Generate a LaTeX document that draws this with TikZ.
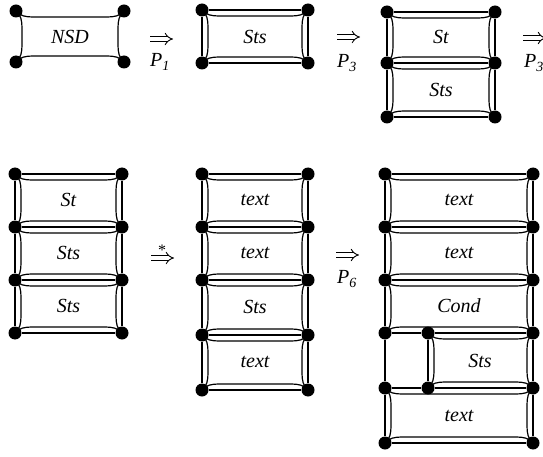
\documentclass[tikz,border=0pt]{standalone}
\usepackage{fontspec}
\setmainfont{Liberation Serif}
\usetikzlibrary{arrows.meta}
% inset and corner run of the curved face outline inside each cell
\newcommand\cellinset{6}
\newcommand\cellrun{17}
% \cellface{x1}{y1}{x2}{y2}: concave face outline through the four corners
\newcommand\cellface[4]{%
  \draw[face] (#1,#2) .. controls ({#1+4},{#2+5}) and ({#1+\cellrun-7},{#2+\cellinset}) .. ({#1+\cellrun},{#2+\cellinset})
    -- ({#3-\cellrun},{#2+\cellinset}) .. controls ({#3-\cellrun+7},{#2+\cellinset}) and ({#3-4},{#2+5}) .. (#3,#2)
    .. controls ({#3-5},{#2+4}) and ({#3-\cellinset},{#2+\cellrun-7}) .. ({#3-\cellinset},{#2+\cellrun})
    -- ({#3-\cellinset},{#4-\cellrun}) .. controls ({#3-\cellinset},{#4-\cellrun+7}) and ({#3-5},{#4-4}) .. (#3,#4)
    .. controls ({#3-4},{#4-5}) and ({#3-\cellrun+7},{#4-\cellinset}) .. ({#3-\cellrun},{#4-\cellinset})
    -- ({#1+\cellrun},{#4-\cellinset}) .. controls ({#1+\cellrun-7},{#4-\cellinset}) and ({#1+4},{#4-5}) .. (#1,#4)
    .. controls ({#1+5},{#4-4}) and ({#1+\cellinset},{#4-\cellrun+7}) .. ({#1+\cellinset},{#4-\cellrun})
    -- ({#1+\cellinset},{#2+\cellrun}) .. controls ({#1+\cellinset},{#2+\cellrun-7}) and ({#1+5},{#2+4}) .. cycle;}
\begin{document}
\begin{tikzpicture}[x=1pt,y=-1pt,
  dot/.style={circle,fill=black,inner sep=0pt,minimum size=13pt},
  edge/.style={line width=1.5pt},
  face/.style={line width=1.2pt},
  derive/.style={line width=0.9pt,double distance=3.4pt,-{Implies[length=5pt,width=10pt]}},
  lbl/.style={font=\fontsize{20}{23}\selectfont\itshape,inner sep=0pt},
  rulename/.style={font=\fontsize{20}{23}\selectfont\itshape,inner sep=0pt}]
\useasboundingbox (0,0) rectangle (543,457);

% ---------- NSD ----------
\node[dot] (a1) at (16,11) {};
\node[dot] (a2) at (124,11) {};
\node[dot] (a3) at (16,62) {};
\node[dot] (a4) at (124,62) {};
\cellface{16}{11}{124}{62}
\node[lbl] (nsd) at (70,37) {NSD};

\coordinate (r1s) at (150,39);
\coordinate (r1e) at (173,39);
\draw[derive] (r1s) -- (r1e);
\node[rulename] (p1) at (160,62) {P\textsubscript{1}};

% ---------- Sts ----------
\node[dot] (b1) at (202,10) {};
\node[dot] (b2) at (308,10) {};
\node[dot] (b3) at (202,63) {};
\node[dot] (b4) at (308,63) {};
\draw[edge] (b1) -- (b2) (b2) -- (b4) (b4) -- (b3) (b3) -- (b1);
\cellface{202}{10}{308}{63}
\node[lbl] (bsts) at (255,37) {Sts};

\coordinate (r2s) at (337,37);
\coordinate (r2e) at (360,37);
\draw[derive] (r2s) -- (r2e);
\node[rulename] (p3a) at (347,63) {P\textsubscript{3}};

% ---------- St / Sts ----------
\node[dot] (c1) at (387,12) {};
\node[dot] (c2) at (495,12) {};
\node[dot] (c3) at (387,63) {};
\node[dot] (c4) at (495,63) {};
\node[dot] (c5) at (387,117) {};
\node[dot] (c6) at (495,117) {};
\draw[edge] (c1) -- (c2) (c3) -- (c4) (c5) -- (c6)
  (c1) -- (c3) (c3) -- (c5) (c2) -- (c4) (c4) -- (c6);
\cellface{387}{12}{495}{63}
\cellface{387}{63}{495}{117}
\node[lbl] (cst) at (441,37) {St};
\node[lbl] (csts) at (441,90) {Sts};

\coordinate (r3s) at (523,38);
\coordinate (r3e) at (546,38);
\draw[derive] (r3s) -- (r3e);
\node[rulename] (p3b) at (534,63) {P\textsubscript{3}};

% ---------- St / Sts / Sts ----------
\node[dot] (d1) at (15,174) {};
\node[dot] (d2) at (122,174) {};
\node[dot] (d3) at (15,227) {};
\node[dot] (d4) at (122,227) {};
\node[dot] (d5) at (15,280) {};
\node[dot] (d6) at (122,280) {};
\node[dot] (d7) at (15,333) {};
\node[dot] (d8) at (122,333) {};
\draw[edge] (d1) -- (d2) (d3) -- (d4) (d5) -- (d6) (d7) -- (d8)
  (d1) -- (d3) (d3) -- (d5) (d5) -- (d7)
  (d2) -- (d4) (d4) -- (d6) (d6) -- (d8);
\cellface{15}{174}{122}{227}
\cellface{15}{227}{122}{280}
\cellface{15}{280}{122}{333}
\node[lbl] (dst) at (68.5,200) {St};
\node[lbl] (dsts1) at (68.5,253) {Sts};
\node[lbl] (dsts2) at (68.5,306) {Sts};

\coordinate (r4s) at (151,258);
\coordinate (r4e) at (174,258);
\draw[derive] (r4s) -- (r4e);
\node[font=\fontsize{16}{18}\selectfont,inner sep=0pt] (star) at (162,250) {*};

% ---------- text / text / Sts / text ----------
\node[dot] (e1) at (202,174) {};
\node[dot] (e2) at (308,174) {};
\node[dot] (e3) at (202,227) {};
\node[dot] (e4) at (308,227) {};
\node[dot] (e5) at (202,280) {};
\node[dot] (e6) at (308,280) {};
\node[dot] (e7) at (202,335) {};
\node[dot] (e8) at (308,335) {};
\node[dot] (e9) at (202,390) {};
\node[dot] (e10) at (308,390) {};
\draw[edge] (e1) -- (e2) (e3) -- (e4) (e5) -- (e6) (e7) -- (e8) (e9) -- (e10)
  (e1) -- (e3) (e3) -- (e5) (e5) -- (e7) (e7) -- (e9)
  (e2) -- (e4) (e4) -- (e6) (e6) -- (e8) (e8) -- (e10);
\cellface{202}{174}{308}{227}
\cellface{202}{227}{308}{280}
\cellface{202}{280}{308}{335}
\cellface{202}{335}{308}{390}
\node[lbl] (et1) at (255,200) {text};
\node[lbl] (et2) at (255,253) {text};
\node[lbl] (ests) at (255,307) {Sts};
\node[lbl] (et3) at (255,362) {text};

\coordinate (r5s) at (336,255);
\coordinate (r5e) at (359,255);
\draw[derive] (r5s) -- (r5e);
\node[rulename] (p6) at (347,279) {P\textsubscript{6}};

% ---------- text / text / Cond / Sts / text ----------
\node[dot] (f1) at (385,174) {};
\node[dot] (f2) at (533,174) {};
\node[dot] (f3) at (385,227) {};
\node[dot] (f4) at (533,227) {};
\node[dot] (f5) at (385,280) {};
\node[dot] (f6) at (533,280) {};
\node[dot] (f7) at (385,333) {};
\node[dot] (f8) at (533,333) {};
\node[dot] (f9) at (385,388) {};
\node[dot] (f10) at (533,388) {};
\node[dot] (f11) at (385,443) {};
\node[dot] (f12) at (533,443) {};
\node[dot] (g1) at (428,333) {};
\node[dot] (g2) at (428,388) {};
\draw[edge] (f1) -- (f2) (f3) -- (f4) (f5) -- (f6) (f11) -- (f12)
  (f7) -- (g1) (g1) -- (f8) (f9) -- (g2) (g2) -- (f10) (g1) -- (g2)
  (f1) -- (f3) (f3) -- (f5) (f5) -- (f7) (f7) -- (f9) (f9) -- (f11)
  (f2) -- (f4) (f4) -- (f6) (f6) -- (f8) (f8) -- (f10) (f10) -- (f12);
\cellface{385}{174}{533}{227}
\cellface{385}{227}{533}{280}
\cellface{385}{280}{533}{333}
\cellface{428}{333}{533}{388}
\cellface{385}{388}{533}{443}
\node[lbl] (ft1) at (459,200) {text};
\node[lbl] (ft2) at (459,253) {text};
\node[lbl] (fcond) at (459,306) {Cond};
\node[lbl] (fsts) at (480,361) {Sts};
\node[lbl] (ft3) at (459,416) {text};
\end{tikzpicture}
\end{document}
